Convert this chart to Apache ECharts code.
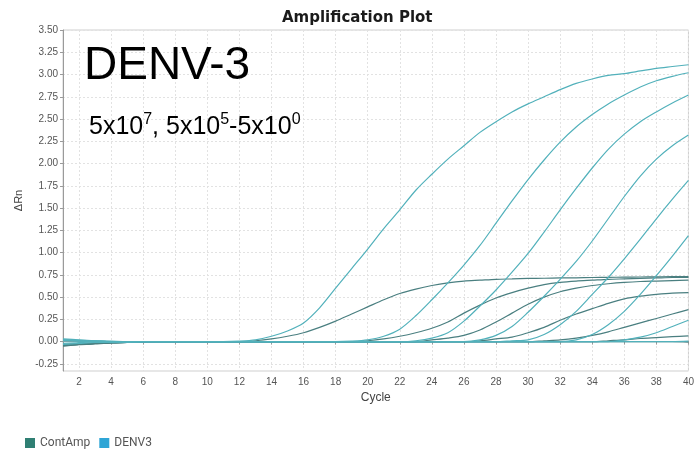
<!DOCTYPE html>
<html>
<head>
<meta charset="utf-8">
<title>Amplification Plot</title>
<script src="https://cdn.jsdelivr.net/npm/echarts@6/dist/echarts.min.js"></script>
<style>
  html, body { margin: 0; padding: 0; background: #ffffff; }
  #chart { width: 697px; height: 449px; }
</style>
</head>
<body>
<div id="chart"></div>
<script>
// PCR cycle numbers (x values)
const cycles = [1, 2, 3, 4, 5, 6, 7, 8, 9, 10,
  11, 12, 13, 14, 15, 16, 17, 18, 19, 20,
  21, 22, 23, 24, 25, 26, 27, 28, 29, 30,
  31, 32, 33, 34, 35, 36, 37, 38, 39, 40];

// Tick labels
const xTicks = [2, 4, 6, 8, 10, 12, 14, 16, 18, 20, 22, 24, 26, 28, 30, 32, 34, 36, 38, 40];
const yTicks = [-0.25, 0, 0.25, 0.5, 0.75, 1, 1.25, 1.5, 1.75, 2, 2.25, 2.5, 2.75, 3, 3.25, 3.5];

// DENV3 target: dilution series 5x10^7, 5x10^5 ... 5x10^0, plus no-template well (ΔRn per cycle)
const denv3_5e7 = [0.02, 0.01, 0.00, -0.01, -0.01, 0, 0, 0, 0, 0,
  0, 0.005, 0.02, 0.06, 0.12, 0.21, 0.38, 0.60, 0.82, 1.04,
  1.27, 1.48, 1.70, 1.88, 2.05, 2.20, 2.35, 2.47, 2.58, 2.67,
  2.75, 2.83, 2.90, 2.95, 2.99, 3.01, 3.04, 3.07, 3.09, 3.11];
const denv3_5e5 = [0.02, 0.015, 0.01, 0.005, 0, 0, 0, 0, 0, 0,
  0, 0, 0, 0, 0, 0, 0, 0, 0.005, 0.02,
  0.06, 0.14, 0.29, 0.47, 0.66, 0.86, 1.08, 1.33, 1.58, 1.82,
  2.04, 2.24, 2.41, 2.55, 2.67, 2.77, 2.86, 2.93, 2.98, 3.02];
const denv3_5e4 = [0.03, 0.02, 0.01, 0, 0, 0, 0, 0, 0, 0,
  0, 0, 0, 0, 0, 0, 0, 0, 0, 0,
  0, 0, 0.01, 0.04, 0.10, 0.23, 0.40, 0.58, 0.78, 0.99,
  1.23, 1.48, 1.72, 1.95, 2.16, 2.33, 2.47, 2.58, 2.68, 2.77];
const denv3_5e3 = [0.01, 0.01, 0.005, 0, 0, 0, 0, 0, 0, 0,
  0, 0, 0, 0, 0, 0, 0, 0, 0, 0,
  0, 0, 0, 0, 0, 0, 0.02, 0.07, 0.17, 0.33,
  0.51, 0.70, 0.90, 1.13, 1.38, 1.63, 1.86, 2.05, 2.20, 2.32];
const denv3_5e2 = [0.02, 0.01, 0.005, 0, 0, 0, 0, 0, 0, 0,
  0, 0, 0, 0, 0, 0, 0, 0, 0, 0,
  0, 0, 0, 0, 0, 0, 0, 0, 0.01, 0.02,
  0.08, 0.19, 0.34, 0.53, 0.72, 0.93, 1.15, 1.38, 1.60, 1.81];
const denv3_5e1 = [-0.02, -0.01, -0.005, 0, 0, 0, 0, 0, 0, 0,
  0, 0, 0, 0, 0, 0, 0, 0, 0, 0,
  0, 0, 0, 0, 0, 0, 0, 0, 0, 0,
  0, 0, 0.02, 0.08, 0.19, 0.34, 0.53, 0.74, 0.96, 1.19];
const denv3_5e0 = [0.01, 0.005, 0, 0, 0, 0, 0, 0, 0, 0,
  0, 0, 0, 0, 0, 0, 0, 0, 0, 0,
  0, 0, 0, 0, 0, 0, 0, 0, 0, 0,
  0, 0, 0, 0, 0, 0.02, 0.05, 0.10, 0.17, 0.24];
const denv3_ntc = [-0.03, -0.02, -0.01, -0.01, 0, 0, 0, 0, 0, 0,
  0, 0, 0, 0, 0, 0, 0, 0, 0, 0,
  0, 0, 0, 0, 0, 0, 0, 0, 0, 0,
  0, 0, 0, 0, 0, 0, 0, 0, 0, 0.005];

// ContAmp control target, same wells
const cont_1 = [-0.04, -0.03, -0.02, -0.015, -0.01, -0.005, 0, 0, 0, 0,
  0, 0, 0.01, 0.03, 0.06, 0.10, 0.16, 0.23, 0.31, 0.39,
  0.47, 0.54, 0.59, 0.63, 0.66, 0.68, 0.69, 0.70, 0.705, 0.71,
  0.712, 0.715, 0.717, 0.72, 0.722, 0.724, 0.726, 0.728, 0.73, 0.73];
const cont_2 = [-0.05, -0.035, -0.025, -0.015, -0.01, -0.005, 0, 0, 0, 0,
  0, 0, 0, 0, 0, 0, 0, 0, 0, 0.01,
  0.03, 0.06, 0.10, 0.15, 0.22, 0.32, 0.41, 0.49, 0.55, 0.60,
  0.64, 0.665, 0.68, 0.69, 0.70, 0.705, 0.71, 0.715, 0.72, 0.72];
const cont_3 = [-0.04, -0.03, -0.02, -0.01, -0.01, 0, 0, 0, 0, 0,
  0, 0, 0, 0, 0, 0, 0, 0, 0, 0,
  0, 0, 0, 0.02, 0.04, 0.07, 0.13, 0.22, 0.32, 0.42,
  0.50, 0.56, 0.60, 0.63, 0.65, 0.665, 0.675, 0.68, 0.685, 0.69];
const cont_4 = [-0.03, -0.025, -0.02, -0.01, -0.005, 0, 0, 0, 0, 0,
  0, 0, 0, 0, 0, 0, 0, 0, 0, 0,
  0, 0, 0, 0, 0, 0, 0.01, 0.03, 0.05, 0.10,
  0.16, 0.24, 0.31, 0.37, 0.43, 0.48, 0.51, 0.53, 0.545, 0.55];
const cont_5 = [-0.045, -0.03, -0.02, -0.015, -0.01, 0, 0, 0, 0, 0,
  0, 0, 0, 0, 0, 0, 0, 0, 0, 0,
  0, 0, 0, 0, 0, 0, 0, 0, 0, 0,
  0.01, 0.02, 0.04, 0.07, 0.11, 0.16, 0.21, 0.26, 0.31, 0.36];
const cont_6 = [-0.04, -0.03, -0.02, -0.01, -0.005, 0, 0, 0, 0, 0,
  0, 0, 0, 0, 0, 0, 0, 0, 0, 0,
  0, 0, 0, 0, 0, 0, 0, 0, 0, 0,
  0, 0, 0, 0, 0.01, 0.02, 0.035, 0.045, 0.055, 0.065];
const cont_ntc = [-0.035, -0.025, -0.02, -0.01, -0.005, 0, 0, 0, 0, 0,
  0, 0, 0, 0, 0, 0, 0, 0, 0, 0,
  0, 0, 0, 0, 0, 0, 0, 0, 0, 0,
  0, 0, 0, 0, 0, 0, 0, 0, 0, -0.005];

const denv3Curves = [denv3_5e7, denv3_5e5, denv3_5e4, denv3_5e3, denv3_5e2, denv3_5e1, denv3_5e0, denv3_ntc];
const contCurves = [cont_1, cont_2, cont_3, cont_4, cont_5, cont_6, cont_ntc];

const CONT_LINE = '#4a7f80';
const DENV_LINE = '#52b1bb';

function toPairs(values) {
  return cycles.map((c, i) => [c, values[i]]);
}

function curveSeries(name, values, color) {
  return {
    name: name,
    type: 'line',
    data: toPairs(values),
    showSymbol: false,
    symbol: 'none',
    smooth: 0.3,
    lineStyle: { width: 1.2, color: color },
    itemStyle: { color: color },
    emphasis: { disabled: true },
    silent: true
  };
}

const series = [];
contCurves.forEach(v => series.push(curveSeries('ContAmp', v, CONT_LINE)));
denv3Curves.forEach(v => series.push(curveSeries('DENV3', v, DENV_LINE)));

const chart = echarts.init(document.getElementById('chart'), null, { renderer: 'canvas' });

chart.setOption({
  animation: false,
  backgroundColor: '#ffffff',
  title: {
    text: 'Amplification Plot',
    left: 277,
    top: 6,
    textStyle: {
      fontFamily: 'DejaVu Sans',
      fontWeight: 'bold',
      fontSize: 15,
      color: '#1a1a1a'
    }
  },
  grid: {
    left: 63,
    right: 4,
    top: 30,
    bottom: 78,
    show: true,
    borderColor: '#cfcfcf',
    borderWidth: 1
  },
  legend: {
    left: 20,
    top: 432,
    itemWidth: 10,
    itemHeight: 10,
    itemGap: 9,
    icon: 'rect',
    selectedMode: false,
    textStyle: { fontFamily: 'Roboto', fontSize: 12, color: '#555' },
    data: [
      { name: 'ContAmp', itemStyle: { color: '#2f7f73' } },
      { name: 'DENV3', itemStyle: { color: '#2ea5d6' } }
    ]
  },
  xAxis: {
    type: 'value',
    min: 1,
    max: 40,
    name: 'Cycle',
    nameLocation: 'middle',
    nameGap: 17,
    nameTextStyle: { fontFamily: 'Liberation Sans', fontSize: 12, color: '#444' },
    axisLine: { show: true, lineStyle: { color: '#9a9a9a', width: 1 } },
    axisTick: { show: true, length: 3, customValues: xTicks, lineStyle: { color: '#9a9a9a' } },
    axisLabel: {
      customValues: xTicks,
      margin: 6,
      fontFamily: 'Liberation Sans',
      fontSize: 10,
      color: '#555'
    },
    splitLine: { show: true, lineStyle: { color: '#e2e2e2', type: [2, 2], width: 1 } }
  },
  yAxis: {
    type: 'value',
    min: -0.33,
    max: 3.5,
    name: 'ΔRn',
    nameLocation: 'middle',
    nameGap: 29,
    nameRotate: 90,
    nameTextStyle: { fontFamily: 'Liberation Sans', fontSize: 11, color: '#444' },
    axisLine: { show: true, lineStyle: { color: '#9a9a9a', width: 1 } },
    axisTick: { show: true, length: 3, customValues: yTicks, lineStyle: { color: '#9a9a9a' } },
    axisLabel: {
      customValues: yTicks,
      margin: 5,
      fontFamily: 'Liberation Sans',
      fontSize: 10,
      color: '#555',
      formatter: v => v.toFixed(2)
    },
    splitLine: { show: true, lineStyle: { color: '#e2e2e2', type: [2, 2], width: 1 } }
  },
  graphic: [
    {
      type: 'text',
      left: 84,
      top: 43,
      z: 10,
      style: {
        text: 'DENV-3',
        fontFamily: 'Liberation Sans',
        fontSize: 46,
        fill: '#000'
      }
    },
    {
      type: 'text',
      left: 89,
      top: 112,
      z: 10,
      style: {
        text: '{b|5x10}{s|7}{b|, 5x10}{s|5}{b|-5x10}{s|0}',
        fill: '#000',
        rich: {
          b: { fontFamily: 'Liberation Sans', fontSize: 25, lineHeight: 28, verticalAlign: 'bottom', fill: '#000' },
          s: { fontFamily: 'Liberation Sans', fontSize: 16, lineHeight: 28, verticalAlign: 'top', fill: '#000' }
        }
      }
    }
  ],
  series: series
});
</script>
</body>
</html>
